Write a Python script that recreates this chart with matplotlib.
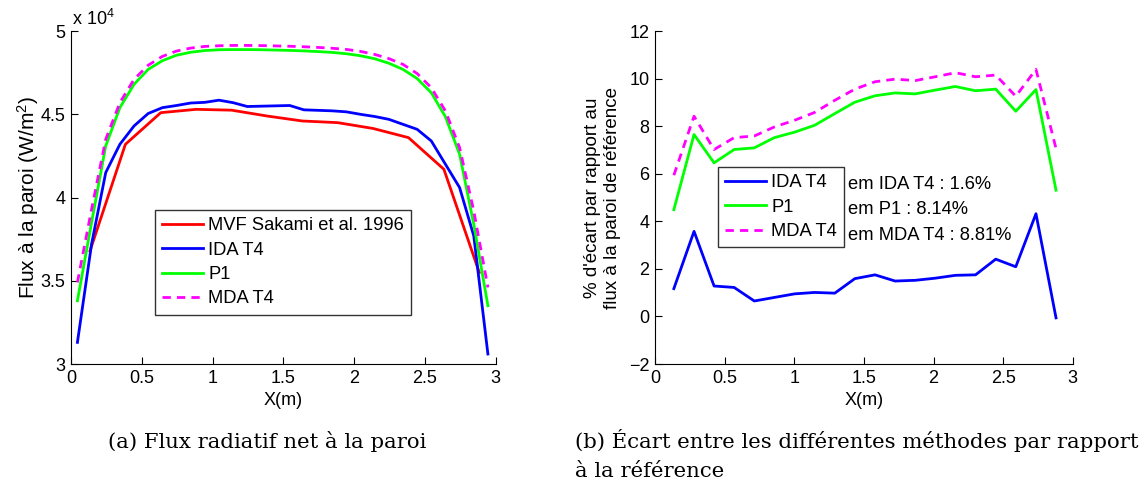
import matplotlib
matplotlib.use("Agg")
import matplotlib.pyplot as plt
from matplotlib.ticker import FuncFormatter

plt.rcParams["font.family"] = ["Liberation Sans", "DejaVu Sans"]
plt.rcParams["mathtext.fontset"] = "custom"
plt.rcParams["mathtext.rm"] = "Liberation Sans"
plt.rcParams["mathtext.default"] = "regular"

# (a) net radiative flux at the wall, in units of 1e4 W/m2
x_ref = [0.134, 0.384, 0.634, 0.884, 1.134, 1.384, 1.634, 1.884, 2.134, 2.384, 2.634, 2.884]
flux_mvf = [3.68, 4.32, 4.51, 4.53, 4.525, 4.49, 4.46, 4.45, 4.415, 4.36, 4.17, 3.55]

x_calc = [0.045, 0.145, 0.245, 0.345, 0.445, 0.545, 0.645, 0.745, 0.845, 0.945,
          1.045, 1.145, 1.245, 1.345, 1.445, 1.545, 1.645, 1.745, 1.845, 1.945,
          2.045, 2.145, 2.245, 2.345, 2.445, 2.545, 2.645, 2.745, 2.845, 2.945]
flux_ida = [3.13, 3.72, 4.15, 4.32, 4.43, 4.505, 4.54, 4.553, 4.568, 4.572,
            4.585, 4.57, 4.547, 4.549, 4.551, 4.553, 4.527, 4.524, 4.521, 4.515,
            4.50, 4.487, 4.47, 4.44, 4.41, 4.34, 4.20, 4.06, 3.77, 3.06]
flux_p1 = [3.38, 3.85, 4.31, 4.54, 4.68, 4.77, 4.822, 4.855, 4.873, 4.883,
           4.888, 4.889, 4.889, 4.888, 4.886, 4.884, 4.881, 4.877, 4.872, 4.864,
           4.852, 4.834, 4.807, 4.77, 4.715, 4.63, 4.485, 4.26, 3.84, 3.35]
flux_mda = [3.49, 3.93, 4.35, 4.57, 4.71, 4.795, 4.848, 4.88, 4.898, 4.908,
            4.912, 4.914, 4.914, 4.913, 4.911, 4.909, 4.906, 4.902, 4.897, 4.89,
            4.878, 4.86, 4.835, 4.80, 4.745, 4.66, 4.52, 4.30, 3.92, 3.46]

# (b) deviation from the reference, in %
x_dev = [0.135, 0.28, 0.424, 0.568, 0.713, 0.857, 1.002, 1.146, 1.291, 1.435,
         1.58, 1.724, 1.869, 2.013, 2.158, 2.302, 2.447, 2.591, 2.736, 2.88]
dev_ida = [1.17, 3.58, 1.28, 1.22, 0.65, 0.80, 0.95, 1.01, 0.98, 1.59,
           1.75, 1.49, 1.52, 1.61, 1.73, 1.75, 2.41, 2.09, 4.32, -0.06]
dev_p1 = [4.49, 7.65, 6.46, 7.02, 7.09, 7.52, 7.75, 8.04, 8.53, 9.01,
          9.28, 9.40, 9.36, 9.52, 9.67, 9.49, 9.56, 8.63, 9.54, 5.31]
dev_mda = [5.94, 8.42, 7.02, 7.52, 7.59, 7.97, 8.25, 8.58, 9.09, 9.56,
           9.87, 9.98, 9.92, 10.08, 10.25, 10.08, 10.15, 9.26, 10.39, 7.06]
mean_labels = ["em IDA T4 : 1.6%", "em P1 : 8.14%", "em MDA T4 : 8.81%"]

LW = 2.0
DASH = (0, (3, 2.2))
FS = 13
LEG_FS = 13.2

fig = plt.figure(figsize=(11.44, 4.86), dpi=100)
ax1 = fig.add_axes([0.0621, 0.251, 0.3712, 0.685])
ax2 = fig.add_axes([0.5726, 0.251, 0.3651, 0.685])

for ax in (ax1, ax2):
    ax.spines["top"].set_visible(False)
    ax.spines["right"].set_visible(False)
    ax.tick_params(direction="in", length=5, labelsize=FS, pad=4)
    ax.set_xlim(0, 3)
    ax.set_xticks([0, 0.5, 1, 1.5, 2, 2.5, 3])
    ax.xaxis.set_major_formatter(FuncFormatter(lambda v, p: "%g" % v))
    ax.set_xlabel("X(m)", fontsize=FS, labelpad=4)

ax1.plot(x_ref, flux_mvf, color="#ff0000", lw=LW, label="MVF Sakami et al. 1996")
ax1.plot(x_calc, flux_ida, color="#0000ff", lw=LW, label="IDA T4")
ax1.plot(x_calc, flux_p1, color="#00ff00", lw=LW, label="P1")
ax1.plot(x_calc, flux_mda, color="#ff00ff", lw=LW, ls=DASH, label="MDA T4")
ax1.set_ylim(3, 5)
ax1.set_yticks([3, 3.5, 4, 4.5, 5])
ax1.yaxis.set_major_formatter(FuncFormatter(lambda v, p: "%g" % v))
ax1.set_ylabel("Flux à la paroi (W/m$^{2}$)", fontsize=15, labelpad=0)
ax1.text(0.003, 1.005, "x 10$^{4}$", transform=ax1.transAxes, fontsize=FS,
         ha="left", va="bottom")

leg_style = dict(borderaxespad=0, fontsize=LEG_FS, frameon=True, fancybox=False,
                 edgecolor="black", handlelength=2.2, handletextpad=0.3,
                 labelspacing=0.4, borderpad=0.4)
leg1 = ax1.legend(loc="upper left", bbox_to_anchor=(0.198, 0.4625), **leg_style)
leg1.get_frame().set_linewidth(1.0)

ax2.plot(x_dev, dev_ida, color="#0000ff", lw=LW, label="IDA T4")
ax2.plot(x_dev, dev_p1, color="#00ff00", lw=LW, label="P1")
ax2.plot(x_dev, dev_mda, color="#ff00ff", lw=LW, ls=DASH, label="MDA T4")
ax2.set_ylim(-2, 12)
ax2.set_yticks(range(-2, 13, 2))
ax2.set_ylabel("% d'écart par rapport au\nflux à la paroi de référence",
               fontsize=13.5, labelpad=6)
leg2 = ax2.legend(loc="upper left", bbox_to_anchor=(0.151, 0.592), **leg_style)
leg2.get_frame().set_linewidth(1.0)
for label, yf in zip(mean_labels, [0.5395, 0.4645, 0.3865]):
    ax2.text(0.462, yf, label, transform=ax2.transAxes, fontsize=LEG_FS,
             ha="left", va="center")

cap = dict(family=["DejaVu Serif"], fontsize=15.3, va="baseline")
fig.text(108 / 1144, 1 - 448 / 486, "(a) Flux radiatif net à la paroi", **cap)
fig.text(575 / 1144, 1 - 448 / 486,
         "(b) Écart entre les différentes méthodes par rapport", **cap)
fig.text(575 / 1144, 1 - 477 / 486, "à la référence", **cap)

fig.savefig("out.png", dpi=100)
plt.close(fig)
